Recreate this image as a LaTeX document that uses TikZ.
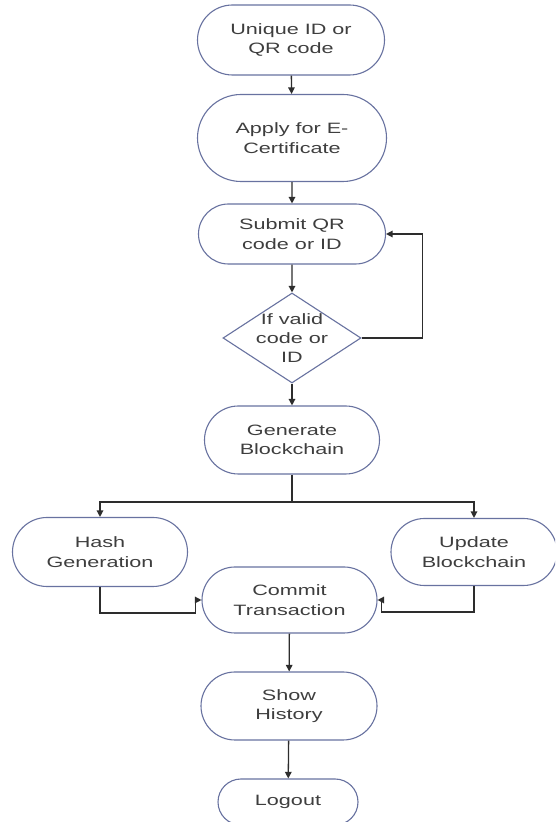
\documentclass[tikz,border=0pt]{standalone}
\usepackage{fontspec}
\setmainfont{Liberation Sans}[FakeStretch=1.44]
\usetikzlibrary{shapes.misc,shapes.geometric,arrows.meta}
\definecolor{boxc}{RGB}{104,114,160}
\definecolor{txtc}{RGB}{62,62,62}
\definecolor{linec}{RGB}{45,45,45}
\begin{document}
\begin{tikzpicture}[x=1pt,y=1pt,
  term/.style={rounded rectangle, draw=boxc, line width=1.1pt, inner sep=0pt,
    text=txtc, align=center, font=\fontsize{15}{19.5}\selectfont},
  dec/.style={diamond, draw=boxc, line width=1.1pt, inner sep=0pt},
  lbl/.style={text=txtc, align=center, font=\fontsize{15}{19}\selectfont},
  arr/.style={draw=linec, line width=1.3pt, -{Triangle[length=6.5pt,width=6.5pt]}},
  ln/.style={draw=linec, line width=1.3pt}]
\useasboundingbox (0,0) rectangle (555,822);
\clip (0,0) rectangle (555,822);
\fill[white] (0,0) rectangle (555,822);

\node[term, minimum width=187pt, minimum height=70pt] (U) at (291,782) {Unique ID or\\QR code};
\node[term, minimum width=189pt, minimum height=87pt] (A) at (292,684) {Apply for E-\\Certificate};
\node[term, minimum width=187pt, minimum height=60pt] (S) at (292,588) {Submit QR\\code or ID};
\node[dec, minimum width=138pt, minimum height=90pt] (D) at (292,484) {};
\node[lbl] (Dt) at (292,484) {If valid\\code or\\ID};
\node[term, minimum width=175pt, minimum height=68pt] (G) at (292,382) {Generate\\Blockchain};
\coordinate (J) at (292,320);
\node[term, minimum width=175pt, minimum height=69pt] (H) at (100,270) {Hash\\Generation};
\node[term, minimum width=166pt, minimum height=67pt] (P) at (474,270) {Update\\Blockchain};
\node[term, minimum width=175pt, minimum height=66pt] (C) at (289.5,222) {Commit\\Transaction};
\node[term, minimum width=176pt, minimum height=68pt] (SH) at (289,116) {Show\\History};
\node[term, minimum width=140pt, minimum height=46pt] (L) at (288,20) {Logout};

\draw[arr] (U) -- (A);
\draw[arr] (A) -- (S);
\draw[arr] (S) -- (D);
\draw[arr] (D.east) -- ++(61,0) |- (S.east);
\draw[arr] (D) -- (G);
\draw[ln] (G.south) -- (J);
\draw[arr] (J) -| (H.north);
\draw[arr] (J) -| (P.north);
\draw[arr] (H.south) -- ++(0,-26) -| ([xshift=-6pt]C.west) -- (C.west);
\draw[arr] (P.south) -- ++(0,-26) -| ([xshift=4pt]C.east) -- (C.east);
\draw[arr] (C) -- (SH);
\draw[arr] (SH) -- (L);
\end{tikzpicture}
\end{document}
